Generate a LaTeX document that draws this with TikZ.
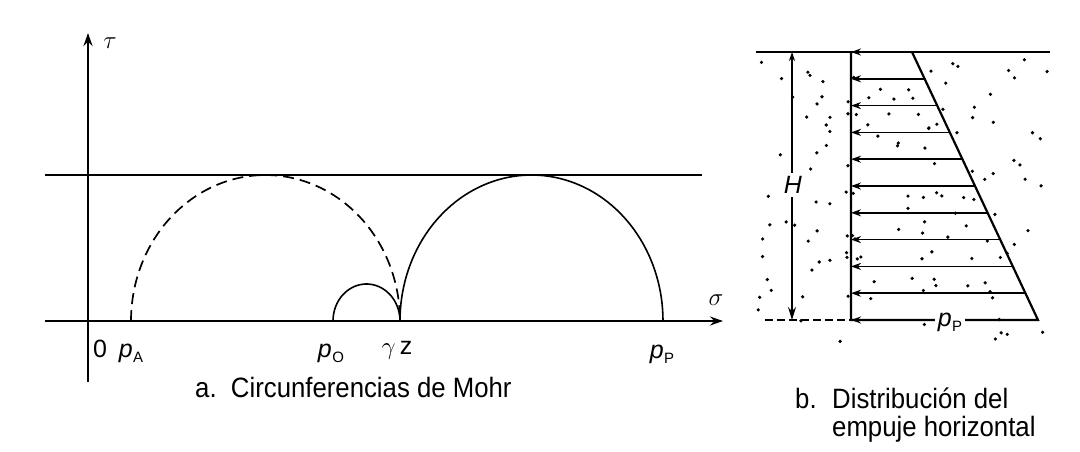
\documentclass[tikz,border=0pt]{standalone}
\usepackage{fontspec}
\setmainfont{Liberation Sans}
\newfontfamily\capfont[FakeStretch=0.92]{Liberation Sans}
\usetikzlibrary{arrows.meta}
\newcommand\plab[2]{{\itshape #1}\kern0.5pt\raisebox{-5pt}{\fontsize{15}{15}\selectfont #2}}
\begin{document}
\begin{tikzpicture}[x=1pt,y=-1pt,
  axisline/.style={line width=2.4pt,-{Stealth[length=13pt,width=9pt]}},
  thinline/.style={line width=2pt},
  circ/.style={line width=1.6pt},
  dcirc/.style={line width=1.7pt,dash pattern=on 11pt off 6pt},
  press/.style={line width=1.6pt,-{Stealth[length=10pt,width=7pt]}},
  dim/.style={line width=1.5pt,{Stealth[length=9pt,width=6pt]}-{Stealth[length=13pt,width=8pt]}},
  lab/.style={font=\fontsize{25}{28}\selectfont,inner sep=1pt},
  glab/.style={font=\fontsize{29}{32}\selectfont,inner sep=1pt},
  captext/.style={font=\capfont\fontsize{28}{32}\selectfont,inner sep=0pt,anchor=base west}]
\useasboundingbox (0,0) rectangle (1080,451);
% ---------- panel a ----------
\coordinate (tb) at (88,382);
\coordinate (tt) at (88,33);
\coordinate (sl) at (45,321);
\coordinate (sr) at (723,321);
\coordinate (hl) at (45,175);
\coordinate (hr) at (702,175);
\draw[axisline] (tb) -- (tt);
\draw[axisline,line width=2pt] (sl) -- (sr);
\draw[thinline] (hl) -- (hr);
% Mohr circles
\draw[dcirc] plot[domain=180:0,samples=80] ({265.5+134.5*cos(\x)},{321-146*sin(\x)});
\draw[circ] plot[domain=180:0,samples=40] ({366.5+33.5*cos(\x)},{321-37*sin(\x)});
\draw[circ] plot[domain=180:0,samples=80] ({531.5+131.5*cos(\x)},{321-146*sin(\x)});
\node[glab] (tau) at (110,43) {$\tau$};
\node[glab] (sig) at (716,300) {$\sigma$};
\node[lab] (zero) at (100,349) {0};
\node[lab] (pA) at (131,353) {\plab{p}{A}};
\node[lab] (pO) at (331,353) {\plab{p}{O}};
\node[lab] (gz) at (397,350) {$\gamma$\,z};
\node[lab] (pP) at (662,354) {\plab{p}{P}};
\node[captext] (capa) at (195,397) {a.\ \ Circunferencias de Mohr};
% ---------- panel b ----------
\pgfmathsetseed{11}
\foreach \i in {1,...,130}{
  \pgfmathsetmacro\dx{758+rnd*292}
  \pgfmathsetmacro\dy{58+rnd*288}
  \fill (\dx,\dy) circle[radius=1.8];
}
\coordinate (gl) at (756,52);
\coordinate (gr) at (1050,52);
\coordinate (wt) at (851,52);
\coordinate (wb) at (851,320);
\coordinate (st) at (912,52);
\coordinate (sb) at (1038,320);
\coordinate (bl) at (765,320);
\coordinate (ht) at (792,52);
\coordinate (hb) at (792,320);
\draw[thinline] (gl) -- (gr);
\draw[line width=2.2pt] (wt) -- (wb) -- (sb) -- (st);
\draw[line width=1.2pt,dash pattern=on 8pt off 4pt] (bl) -- (wb);
\foreach \k in {0,...,10}{
  \pgfmathsetmacro\yy{52+\k*26.8}
  \pgfmathsetmacro\xx{912+\k*12.6}
  \coordinate (s\k) at (\xx,\yy);
  \coordinate (w\k) at (851,\yy);
  \draw[press] (s\k) -- (w\k);
}
\draw[dim] (ht) -- (hb);
\node[lab,fill=white,inner sep=3pt] (H) at (793,185) {\itshape H};
\node[lab,fill=white,inner sep=3pt] (pp) at (950,322) {\plab{p}{P}};
\node[captext] (capb) at (795,408) {b.};
\node[captext] (capb1) at (832,408) {Distribución del};
\node[captext] (capb2) at (832,436) {empuje horizontal};
\end{tikzpicture}
\end{document}
